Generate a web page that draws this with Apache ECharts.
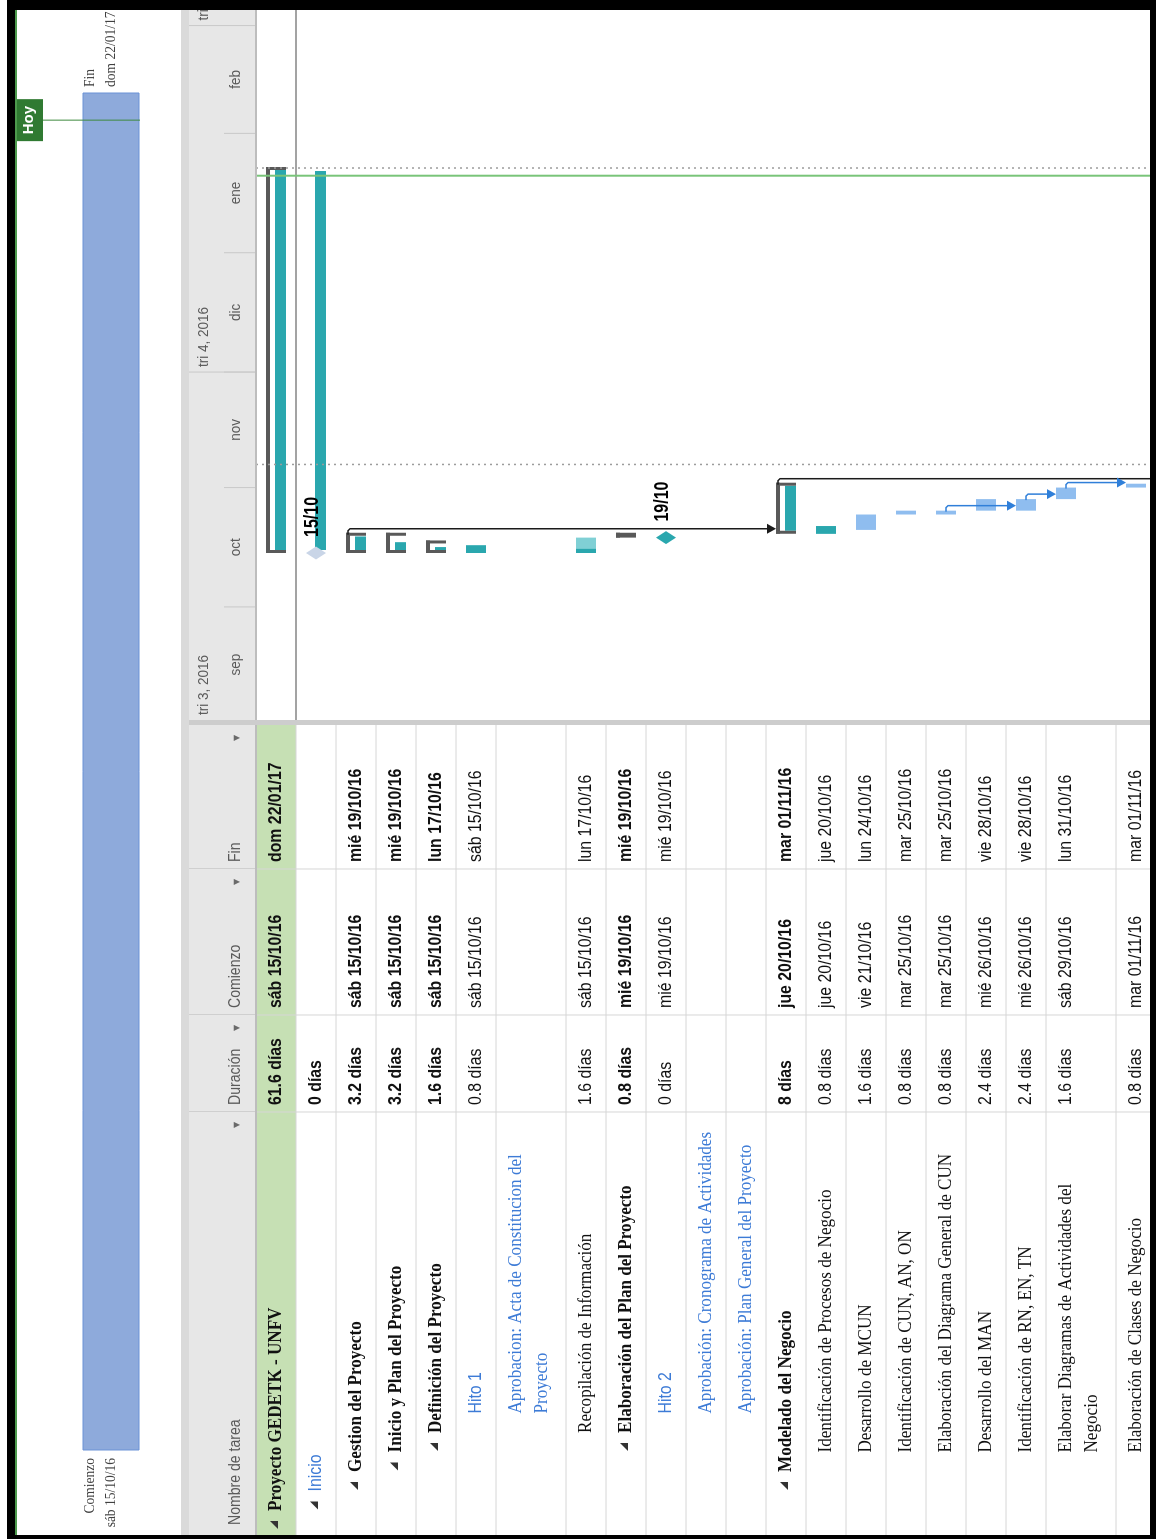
<!DOCTYPE html>
<html>
<head>
<meta charset="utf-8">
<script src="https://cdn.jsdelivr.net/npm/echarts@6/dist/echarts.min.js"></script>
<style>
  html, body { margin: 0; padding: 0; background: #fff; overflow: hidden; width: 1156px; height: 1539px; }
  /* la vista de MS Project esta girada: se dibuja apaisada y se rota -90 grados */
  #gantt { position: absolute; left: 0; top: 0; width: 1539px; height: 1156px; transform-origin: 0 0; transform: translate(0, 1539px) rotate(-90deg); }
</style>
</head>
<body>
<div id="gantt"></div>
<script>
// datos de la tabla
const COLUMNAS = ['Nombre de tarea', 'Duración', 'Comienzo', 'Fin'];
const TAREAS = [
  'Proyecto GEDETK - UNFV', 'Inicio', 'Gestion del Proyecto', 'Inicio y Plan del Proyecto',
  'Definición del Proyecto', 'Hito 1', 'Aprobacion: Acta de Constitucion del\nProyecto',
  'Recopilación de Información', 'Elaboración del Plan del Proyecto', 'Hito 2',
  'Aprobación: Cronograma de Actividades', 'Aprobación: Plan General del Proyecto',
  'Modelado del Negocio', 'Identificación de Procesos de Negocio', 'Desarrollo de MCUN',
  'Identificación de CUN, AN, ON', 'Elaboración del Diagrama General de CUN', 'Desarrollo del MAN',
  'Identificación de RN, EN, TN', 'Elaborar Diagramas de Actividades del\nNegocio', 'Elaboración de Clases de Negocio'
];
const NIVEL = [0, 1, 2, 3, 4, 5, 5, 4, 4, 5, 5, 5, 2, 3, 3, 3, 3, 3, 3, 3, 3];
const TIPO = ['proyecto', 'hito', 'resumen', 'resumen', 'resumen', 'entregable', 'nota', 'tarea', 'resumen', 'hito',
  'nota', 'nota', 'resumen', 'tarea', 'tarea', 'tarea', 'tarea', 'tarea', 'tarea', 'tarea', 'tarea'];
const DURACION = ['61.6 días', '0 días', '3.2 días', '3.2 días', '1.6 días', '0.8 días', '', '1.6 días', '0.8 días', '0 días',
  '', '', '8 días', '0.8 días', '1.6 días', '0.8 días', '0.8 días', '2.4 días', '2.4 días', '1.6 días', '0.8 días'];
const COMIENZO = ['sáb 15/10/16', '', 'sáb 15/10/16', 'sáb 15/10/16', 'sáb 15/10/16', 'sáb 15/10/16', '', 'sáb 15/10/16',
  'mié 19/10/16', 'mié 19/10/16', '', '', 'jue 20/10/16', 'jue 20/10/16', 'vie 21/10/16', 'mar 25/10/16', 'mar 25/10/16',
  'mié 26/10/16', 'mié 26/10/16', 'sáb 29/10/16', 'mar 01/11/16'];
const FIN = ['dom 22/01/17', '', 'mié 19/10/16', 'mié 19/10/16', 'lun 17/10/16', 'sáb 15/10/16', '', 'lun 17/10/16',
  'mié 19/10/16', 'mié 19/10/16', '', '', 'mar 01/11/16', 'jue 20/10/16', 'lun 24/10/16', 'mar 25/10/16', 'mar 25/10/16',
  'vie 28/10/16', 'vie 28/10/16', 'lun 31/10/16', 'mar 01/11/16'];

// barras del diagrama (dias completos, fin incluido)
const BARRA_INICIO = ['2016-10-15', '2016-10-15', '2016-10-15', '2016-10-15', '2016-10-15', '2016-10-15', null, '2016-10-15',
  '2016-10-19', '2016-10-19', null, null, '2016-10-20', '2016-10-20', '2016-10-21', '2016-10-25', '2016-10-25',
  '2016-10-26', '2016-10-26', '2016-10-29', '2016-11-01'];
const BARRA_FIN = ['2017-01-22', '2017-01-22', '2016-10-19', '2016-10-19', '2016-10-17', '2016-10-16', null, '2016-10-18',
  '2016-10-19', null, null, null, '2016-11-01', '2016-10-21', '2016-10-24', '2016-10-25', '2016-10-25',
  '2016-10-28', '2016-10-28', '2016-10-31', '2016-11-01'];
const PROGRESO = [100, 100, 95, 55, 45, 100, 0, 27, 100, 0, 0, 0, 100, 100, 0, 0, 0, 0, 0, 0, 0];
const ENLACES = [[2, 12], [12, null], [16, 18], [18, 19], [19, 20]];

// escala de tiempo
const MES_INICIO = ['2016-09-01', '2016-10-01', '2016-11-01', '2016-12-01', '2017-01-01', '2017-02-01'];
const MES_NOMBRE = ['sep', 'oct', 'nov', 'dic', 'ene', 'feb'];
const TRIMESTRE_INICIO = ['2016-09-01', '2016-12-01', '2017-03-01'];
const TRIMESTRE_NOMBRE = ['tri 3, 2016', 'tri 4, 2016', 'tri 1, 2017'];
const HOY = '2017-01-21';
const LINEAS_PUNTEADAS = ['2016-11-07', '2017-01-23'];
const VISTA = ['2016-09-01T15:00:00', '2017-03-05T01:00:00'];

const DIA_MS = 86400000;
const dia = s => new Date(s + 'T00:00:00').getTime();
const TEAL = '#2aa7ae', TEAL_CLARO = '#80d0d5', AZUL_BARRA = '#8fbdef', GRIS = '#595959', AZUL_TEXTO = '#3d7bd6';

// geometria de filas
const ALTO_FILA = 40, ALTO_EXTRA = 30;
const lineas = TAREAS.map(s => s.split('\n').length);
const altoFila = i => ALTO_FILA + ALTO_EXTRA * (lineas[i] - 1);
const filaTop = [];
lineas.reduce((acc, n, i) => { filaTop.push(acc); return acc + altoFila(i); }, 0);
const tieneHijos = i => i + 1 < NIVEL.length && NIVEL[i + 1] > NIVEL[i];
const esAzul = i => ['hito', 'entregable', 'nota'].includes(TIPO[i]);

const COL_X = [0, 423, 520, 666, 810];

function renderFila(params, api) {
  const i = params.dataIndex, cs = params.coordSys;
  const top = api.coord([0, filaTop[i]])[1];
  const bot = api.coord([0, filaTop[i] + altoFila(i)])[1];
  const X = v => api.coord([v, 0])[0];
  const cy = top + 20;
  const kids = [];
  if (TIPO[i] === 'proyecto') kids.push({ type: 'rect', shape: { x: cs.x, y: top, width: cs.width, height: bot - top }, style: { fill: '#c6e0b4' } });
  kids.push({ type: 'line', shape: { x1: cs.x, y1: bot, x2: cs.x + cs.width, y2: bot }, style: { stroke: '#d6d6d6', lineWidth: 1 } });
  COL_X.slice(1, 4).forEach(c => kids.push({ type: 'line', shape: { x1: X(c), y1: top, x2: X(c), y2: bot }, style: { stroke: '#d6d6d6', lineWidth: 1 } }));
  const tx = X(24 + 19.5 * NIVEL[i]);
  if (tieneHijos(i)) kids.push({ type: 'polygon', shape: { points: [[tx - 10, cy - 6], [tx - 10, cy + 2], [tx - 18, cy + 2]] }, style: { fill: '#333' } });
  const sans = TIPO[i] === 'hito' || TIPO[i] === 'entregable';
  kids.push({ type: 'text', x: tx, y: cy - 13, scaleX: sans ? 0.88 : 0.9, style: {
    text: TAREAS[i], fill: esAzul(i) ? AZUL_TEXTO : '#111', fontFamily: sans ? 'Liberation Sans' : 'Liberation Serif',
    fontSize: sans ? 18 : 19, fontWeight: tieneHijos(i) && !esAzul(i) ? 'bold' : 'normal', align: 'left', verticalAlign: 'top', lineHeight: 26 } });
  [DURACION[i], COMIENZO[i], FIN[i]].forEach((v, k) => {
    if (!v) return;
    kids.push({ type: 'text', x: X(COL_X[k + 1] + 7), y: cy, scaleX: 0.88, style: {
      text: v, fill: '#111', fontFamily: 'Liberation Sans', fontSize: 18, fontWeight: tieneHijos(i) ? 'bold' : 'normal', align: 'left', verticalAlign: 'middle' } });
  });
  return { type: 'group', children: kids };
}

function renderBarra(params, api) {
  const i = params.dataIndex, cs = params.coordSys;
  const top = api.coord([0, filaTop[i]])[1];
  const cy = top + 20;
  const kids = [];
  if (i === 0) {
    const b = api.coord([0, filaTop[0] + altoFila(0)])[1];
    kids.push({ type: 'line', shape: { x1: cs.x, y1: b, x2: cs.x + cs.width, y2: b }, style: { stroke: '#a3a3a3', lineWidth: 2 } });
  }
  if (!BARRA_INICIO[i]) return { type: 'group', children: kids };
  const x0 = api.coord([dia(BARRA_INICIO[i]), 0])[0];
  const x1 = BARRA_FIN[i] ? api.coord([dia(BARRA_FIN[i]) + DIA_MS, 0])[0] : x0;
  const p = PROGRESO[i] / 100;
  const tipo = TIPO[i];
  if (tipo === 'proyecto' || tipo === 'resumen') {
    const xe = x1 + 1;
    const dentro = Math.max(0, xe - x0 - 6);
    kids.push({ type: 'rect', shape: { x: x0 + 3, y: cy - 1, width: dentro * p, height: 11 }, style: { fill: TEAL } });
    kids.push({ type: 'rect', shape: { x: x0, y: cy - 10, width: xe - x0, height: 4 }, style: { fill: GRIS } });
    kids.push({ type: 'rect', shape: { x: x0, y: cy - 10, width: 3, height: 20 }, style: { fill: GRIS } });
    kids.push({ type: 'rect', shape: { x: xe - 3, y: cy - 10, width: 3, height: 20 }, style: { fill: GRIS } });
  } else if (tipo === 'hito') {
    if (BARRA_FIN[i]) kids.push({ type: 'rect', shape: { x: x0 + 3, y: cy - 1, width: x1 - x0 - 6, height: 11 }, style: { fill: TEAL } });
    kids.push({ type: 'polygon', shape: { points: [[x0, cy - 10], [x0 + 6.5, cy], [x0, cy + 10], [x0 - 6.5, cy]] },
      style: { fill: tieneHijos(i) ? '#c9d5e7' : TEAL } });
    const f = BARRA_INICIO[i].split('-');
    kids.push({ type: 'text', x: x0 + 16, y: cy - 4, scaleX: 0.8, style: { text: f[2] + '/' + f[1], fill: '#000', fontFamily: 'Liberation Sans',
      fontSize: 20, fontWeight: 'bold', align: 'left', verticalAlign: 'middle' } });
  } else {
    const w = x1 - x0;
    if (p === 0) {
      kids.push({ type: 'rect', shape: { x: x0, y: cy - 10, width: w, height: 20 }, style: { fill: AZUL_BARRA } });
    } else {
      kids.push({ type: 'rect', shape: { x: x0, y: cy - 10, width: w, height: 20 }, style: { fill: TEAL_CLARO } });
      kids.push({ type: 'rect', shape: { x: x0, y: cy - 10, width: w * p, height: 20 }, style: { fill: TEAL } });
    }
  }
  return { type: 'group', children: kids };
}

function renderEnlace(params, api) {
  const [a, b] = ENLACES[params.dataIndex];
  const cs = params.coordSys;
  const resumen = tieneHijos(a);
  const xFin = api.coord([dia(BARRA_FIN[a]) + DIA_MS, 0])[0];
  const xv = xFin + 5;
  const ya = api.coord([0, filaTop[a]])[1] + 20 + (resumen ? -8 : 0);
  const yb = b === null ? cs.y + cs.height + 20 : api.coord([0, filaTop[b]])[1] + 10;
  const color = resumen ? '#1b1b1b' : '#2f7fd9';
  return { type: 'group', children: [
    { type: 'polyline', shape: { points: [[xFin - 1, ya], [xv - 2, ya], [xv, ya + 2], [xv, yb - 8]] }, style: { stroke: color, lineWidth: 1.5, fill: 'none' } },
    { type: 'polygon', shape: { points: [[xv - 5, yb - 9], [xv + 5, yb - 9], [xv, yb]] }, style: { fill: color } }
  ] };
}

function renderVertical(color, dash) {
  return (params, api) => {
    const cs = params.coordSys;
    const x = api.coord([api.value(0), 0])[0];
    return { type: 'line', shape: { x1: x, y1: cs.y, x2: x, y2: cs.y + cs.height }, style: { stroke: color, lineWidth: dash ? 1.5 : 2, lineDash: dash } };
  };
}

function renderMes(params, api) {
  const i = params.dataIndex, cs = params.coordSys;
  const d = new Date(dia(MES_INICIO[i]));
  const fin = new Date(d.getFullYear(), d.getMonth() + 1, 1).getTime();
  const xa = api.coord([d.getTime(), 0])[0], xb = api.coord([fin, 0])[0];
  return { type: 'group', children: [
    { type: 'line', shape: { x1: xa, y1: cs.y + 35, x2: xa, y2: cs.y + cs.height }, style: { stroke: '#c9c9c9', lineWidth: 1 } },
    { type: 'text', x: (xa + xb) / 2, y: cs.y + 47, scaleX: 0.9, style: { text: MES_NOMBRE[i], fill: '#5a5a5a', fontFamily: 'Liberation Sans', fontSize: 15, align: 'center', verticalAlign: 'middle' } }
  ] };
}

function renderTrimestre(params, api) {
  const i = params.dataIndex, cs = params.coordSys;
  const xa = api.coord([dia(TRIMESTRE_INICIO[i]), 0])[0];
  return { type: 'group', children: [
    { type: 'line', shape: { x1: xa, y1: cs.y, x2: xa, y2: cs.y + cs.height }, style: { stroke: '#c9c9c9', lineWidth: 1 } },
    { type: 'text', x: Math.max(xa, cs.x) + 5, y: cs.y + 15, scaleX: 0.9, style: { text: TRIMESTRE_NOMBRE[i], fill: '#5a5a5a', fontFamily: 'Liberation Sans', fontSize: 15, align: 'left', verticalAlign: 'middle' } }
  ] };
}

function renderLinea(params, api) {
  const cs = params.coordSys;
  const x0 = api.coord([api.value(0), 0])[0], x1 = api.coord([api.value(1), 0])[0];
  const txt = { fill: '#404040', fontFamily: 'Liberation Serif', fontSize: 15, verticalAlign: 'top', lineHeight: 21 };
  return { type: 'group', children: [
    { type: 'rect', shape: { x: x0, y: cs.y, width: x1 - x0, height: cs.height }, style: { fill: '#8eaadb', stroke: '#6b92d6', lineWidth: 1 } },
    { type: 'text', x: x0 - 8, y: cs.y - 3, scaleX: 0.9, style: Object.assign({ text: 'Comienzo\n' + COMIENZO[0], align: 'right' }, txt) },
    { type: 'text', x: x1 + 6, y: cs.y - 3, scaleX: 0.9, style: Object.assign({ text: 'Fin\n' + FIN[0], align: 'left' }, txt) }
  ] };
}

function renderHoy(params, api) {
  const cs = params.coordSys;
  const x = api.coord([api.value(0), 0])[0];
  return { type: 'group', children: [
    { type: 'line', shape: { x1: x, y1: 43, x2: x, y2: cs.y + cs.height + 1 }, style: { stroke: '#3f8a3f', lineWidth: 1 } },
    { type: 'rect', shape: { x: x - 21, y: 15, width: 42, height: 28 }, style: { fill: '#307a32' } },
    { type: 'text', x: x, y: 29, style: { text: 'Hoy', fill: '#fff', fontFamily: 'Liberation Sans', fontSize: 15, fontWeight: 'bold', align: 'center', verticalAlign: 'middle' } }
  ] };
}

const chart = echarts.init(document.getElementById('gantt'));
const vista = VISTA.map(s => new Date(s).getTime());
const oculto = { show: false };

// cabecera de la tabla y marco
const graficos = [
  { type: 'rect', shape: { x: 0, y: 181, width: 1539, height: 8 }, style: { fill: '#dadada' } },
  { type: 'rect', shape: { x: 4, y: 189, width: 1525, height: 67 }, style: { fill: '#e7e7e7' } },
  { type: 'rect', shape: { x: 4, y: 255, width: 1525, height: 2 }, style: { fill: '#bdbdbd' }, z: 10 },
  { type: 'rect', shape: { x: 814, y: 189, width: 5, height: 967 }, style: { fill: '#cdcdcd' }, z: 10 },
  { type: 'rect', shape: { x: 4, y: 15, width: 1525, height: 2 }, style: { fill: '#4d9a4d' }, z: 100 },
  { type: 'rect', shape: { x: 0, y: 7, width: 4, height: 1149 }, style: { fill: '#000' }, z: 100 },
  { type: 'rect', shape: { x: 1529, y: 7, width: 10, height: 1149 }, style: { fill: '#000' }, z: 100 },
  { type: 'rect', shape: { x: 0, y: 7, width: 1539, height: 8 }, style: { fill: '#000' }, z: 100 },
  { type: 'rect', shape: { x: 0, y: 1150, width: 1539, height: 6 }, style: { fill: '#000' }, z: 100 }
];
COLUMNAS.forEach((c, k) => {
  const xa = 4 + COL_X[k], xb = 4 + COL_X[k + 1];
  if (k > 0) graficos.push({ type: 'rect', shape: { x: xa, y: 189, width: 1, height: 67 }, style: { fill: '#cfcfcf' } });
  graficos.push({ type: 'text', x: xa + (k === 0 ? 10 : 7), y: 236, scaleX: 0.88, style: { text: c, fill: '#595959', fontFamily: 'Liberation Sans', fontSize: 16, verticalAlign: 'middle' } });
  graficos.push({ type: 'text', x: xb - 13, y: 237, style: { text: '▼', fill: '#6a6a6a', fontFamily: 'DejaVu Sans', fontSize: 8, align: 'center', verticalAlign: 'middle' } });
});

chart.setOption({
  animation: false,
  backgroundColor: '#fff',
  grid: [
    { left: 89, top: 83, width: 1357, height: 56 },
    { left: 4, top: 256, width: 810, height: 900 },
    { left: 819, top: 256, width: 710, height: 900 },
    { left: 819, top: 189, width: 710, height: 67 }
  ],
  xAxis: [
    { type: 'time', gridIndex: 0, min: dia(BARRA_INICIO[0]), max: dia(BARRA_FIN[0]) + DIA_MS, ...oculto },
    { type: 'value', gridIndex: 1, min: 0, max: 810, ...oculto },
    { type: 'time', gridIndex: 2, min: vista[0], max: vista[1], ...oculto },
    { type: 'time', gridIndex: 3, min: vista[0], max: vista[1], ...oculto }
  ],
  yAxis: [
    { type: 'value', gridIndex: 0, min: 0, max: 1, ...oculto },
    { type: 'value', gridIndex: 1, min: 0, max: 900, inverse: true, ...oculto },
    { type: 'value', gridIndex: 2, min: 0, max: 900, inverse: true, ...oculto },
    { type: 'value', gridIndex: 3, min: 0, max: 1, ...oculto }
  ],
  graphic: graficos,
  series: [
    { type: 'custom', xAxisIndex: 0, yAxisIndex: 0, renderItem: renderLinea, data: [[dia(BARRA_INICIO[0]), dia(BARRA_FIN[0]) + DIA_MS]] },
    { type: 'custom', xAxisIndex: 0, yAxisIndex: 0, renderItem: renderHoy, data: [[dia(HOY), 0]], z: 5 },
    { type: 'custom', xAxisIndex: 1, yAxisIndex: 1, renderItem: renderFila, data: TAREAS.map((_, i) => [0, filaTop[i]]), clip: true },
    { type: 'custom', xAxisIndex: 2, yAxisIndex: 2, renderItem: renderBarra, clip: true,
      data: TAREAS.map((_, i) => [BARRA_INICIO[i] ? dia(BARRA_INICIO[i]) : vista[0], filaTop[i]]) },
    { type: 'custom', xAxisIndex: 2, yAxisIndex: 2, renderItem: renderEnlace, clip: true, z: 3,
      data: ENLACES.map(([a]) => [dia(BARRA_FIN[a]), filaTop[a]]) },
    { type: 'custom', xAxisIndex: 2, yAxisIndex: 2, renderItem: renderVertical('#9c9c9c', [2, 4]), clip: true, z: 4,
      data: LINEAS_PUNTEADAS.map(d => [dia(d), 0]) },
    { type: 'custom', xAxisIndex: 2, yAxisIndex: 2, renderItem: renderVertical('#79c479', null), clip: true, z: 4,
      data: [[dia(HOY), 0]] },
    { type: 'custom', xAxisIndex: 3, yAxisIndex: 3, renderItem: renderMes, clip: true, data: MES_INICIO.map(s => [dia(s), 0]) },
    { type: 'custom', xAxisIndex: 3, yAxisIndex: 3, renderItem: renderTrimestre, clip: true, data: TRIMESTRE_INICIO.map(s => [dia(s), 0]) }
  ]
});
</script>
</body>
</html>
